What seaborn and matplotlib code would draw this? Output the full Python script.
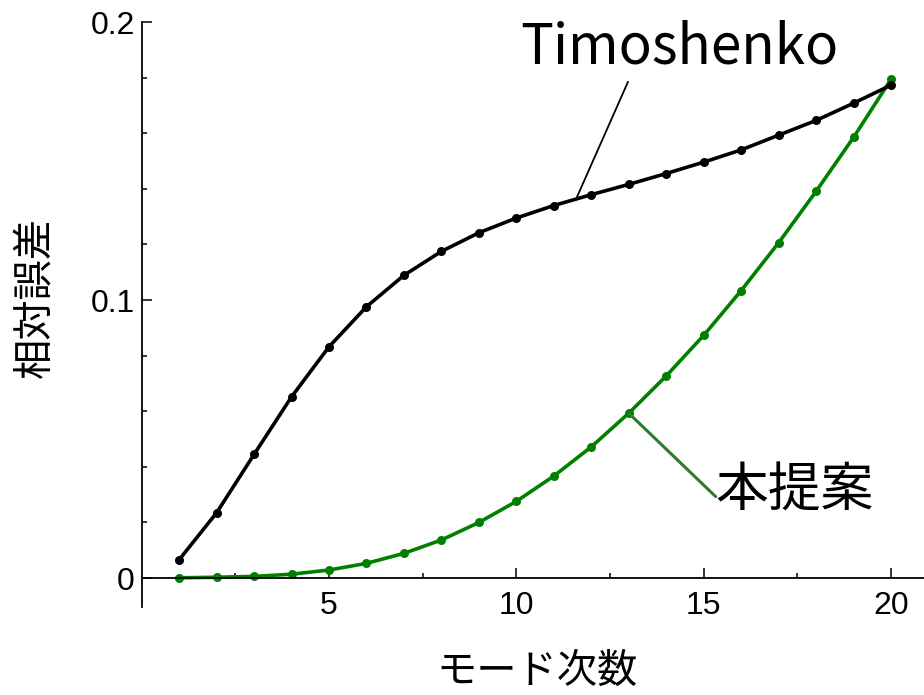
import numpy as np
import pandas as pd
import matplotlib
matplotlib.use("Agg")
import matplotlib.pyplot as plt
from matplotlib.ticker import MultipleLocator, FixedLocator, FixedFormatter
import seaborn as sns

# Relative error per vibration mode for the two beam models
modes = list(range(1, 21))
timoshenko = [0.0066, 0.0235, 0.0445, 0.0652, 0.0832, 0.0976, 0.1089, 0.1175,
              0.1242, 0.1295, 0.1340, 0.1379, 0.1416, 0.1455, 0.1496, 0.1540,
              0.1593, 0.1646, 0.1708, 0.1773]
proposed = [0.0001, 0.0003, 0.0006, 0.0014, 0.0029, 0.0053, 0.0089, 0.0137,
            0.0200, 0.0276, 0.0367, 0.0472, 0.0593, 0.0727, 0.0873, 0.1034,
            0.1206, 0.1391, 0.1585, 0.1794]

series_names = ["本提案", "Timoshenko"]
x_ticks = [5, 10, 15, 20]
y_ticks = [0, 0.1, 0.2]
y_ticklabels = ["0", "0.1", "0.2"]
x_label = "モード次数"
y_label = "相対誤差"

df = pd.DataFrame({
    "mode": modes * 2,
    "error": proposed + timoshenko,
    "method": [series_names[0]] * len(modes) + [series_names[1]] * len(modes),
})

sns.set_theme(style="white")
plt.rcParams["font.family"] = ["Noto Sans CJK JP", "DejaVu Sans"]

fig = plt.figure(figsize=(9.24, 6.95), dpi=100)
ax = fig.add_axes([141.7 / 924, 88 / 695, (924 - 141.7) / 924, 585 / 695])

green = "#008000"
sns.lineplot(data=df, x="mode", y="error", hue="method", hue_order=series_names,
             palette={series_names[0]: green, series_names[1]: "black"},
             marker="o", markersize=6.5, markeredgewidth=0, linewidth=2.6,
             legend=False, ax=ax)

ax.set_xlim(0, 20.88)
ax.set_ylim(-0.0104, 0.2)

# axes crossing at the origin, ticks pointing inward
for s in ["top", "right"]:
    ax.spines[s].set_visible(False)
ax.spines["bottom"].set_position(("data", 0))
for s in ["left", "bottom"]:
    ax.spines[s].set_color("black")
    ax.spines[s].set_linewidth(1.3)

ax.xaxis.set_major_locator(FixedLocator(x_ticks))
ax.xaxis.set_minor_locator(FixedLocator([2.5, 7.5, 12.5, 17.5]))
ax.yaxis.set_major_locator(FixedLocator(y_ticks))
ax.yaxis.set_major_formatter(FixedFormatter(y_ticklabels))
ax.yaxis.set_minor_locator(MultipleLocator(0.02))

ax.tick_params(axis="both", which="both", direction="in", color="black",
               width=1.1)
ax.tick_params(axis="both", which="major", length=7)
ax.tick_params(axis="both", which="minor", length=3.8)
ax.tick_params(axis="x", which="major", pad=9)
ax.tick_params(axis="y", which="major", pad=5)
ax.tick_params(bottom=True, left=True, which="both")
for lab in ax.get_xticklabels() + ax.get_yticklabels():
    lab.set_fontfamily("Liberation Sans")
    lab.set_fontsize(23)
    lab.set_color("black")

ax.set_xlabel("")
ax.set_ylabel("")
fig.text(537 / 924, 1 - 671 / 695, x_label, fontsize=29, ha="center",
         va="center", color="black")
fig.text(35 / 924, 1 - 298 / 695, y_label, fontsize=29, rotation=90,
         ha="center", va="center", color="black")

# callouts naming each curve
ax.annotate("", xy=(11.6, 0.1365), xytext=(12.98, 0.1785),
            arrowprops=dict(arrowstyle="-", color="black", lw=1.3,
                            shrinkA=0, shrinkB=0))
ax.text(14.35, 0.1908, "Timoshenko", fontsize=39.5, ha="center", va="center",
        color="black")
ax.annotate("", xy=(modes[12], proposed[12]), xytext=(15.32, 0.0293),
            arrowprops=dict(arrowstyle="-", color="#2a7d2a", lw=2.2,
                            shrinkA=0, shrinkB=0))
ax.text(17.41, 0.0313, series_names[0], fontsize=38, ha="center", va="center",
        color="black")

fig.savefig("out.png", dpi=100)
